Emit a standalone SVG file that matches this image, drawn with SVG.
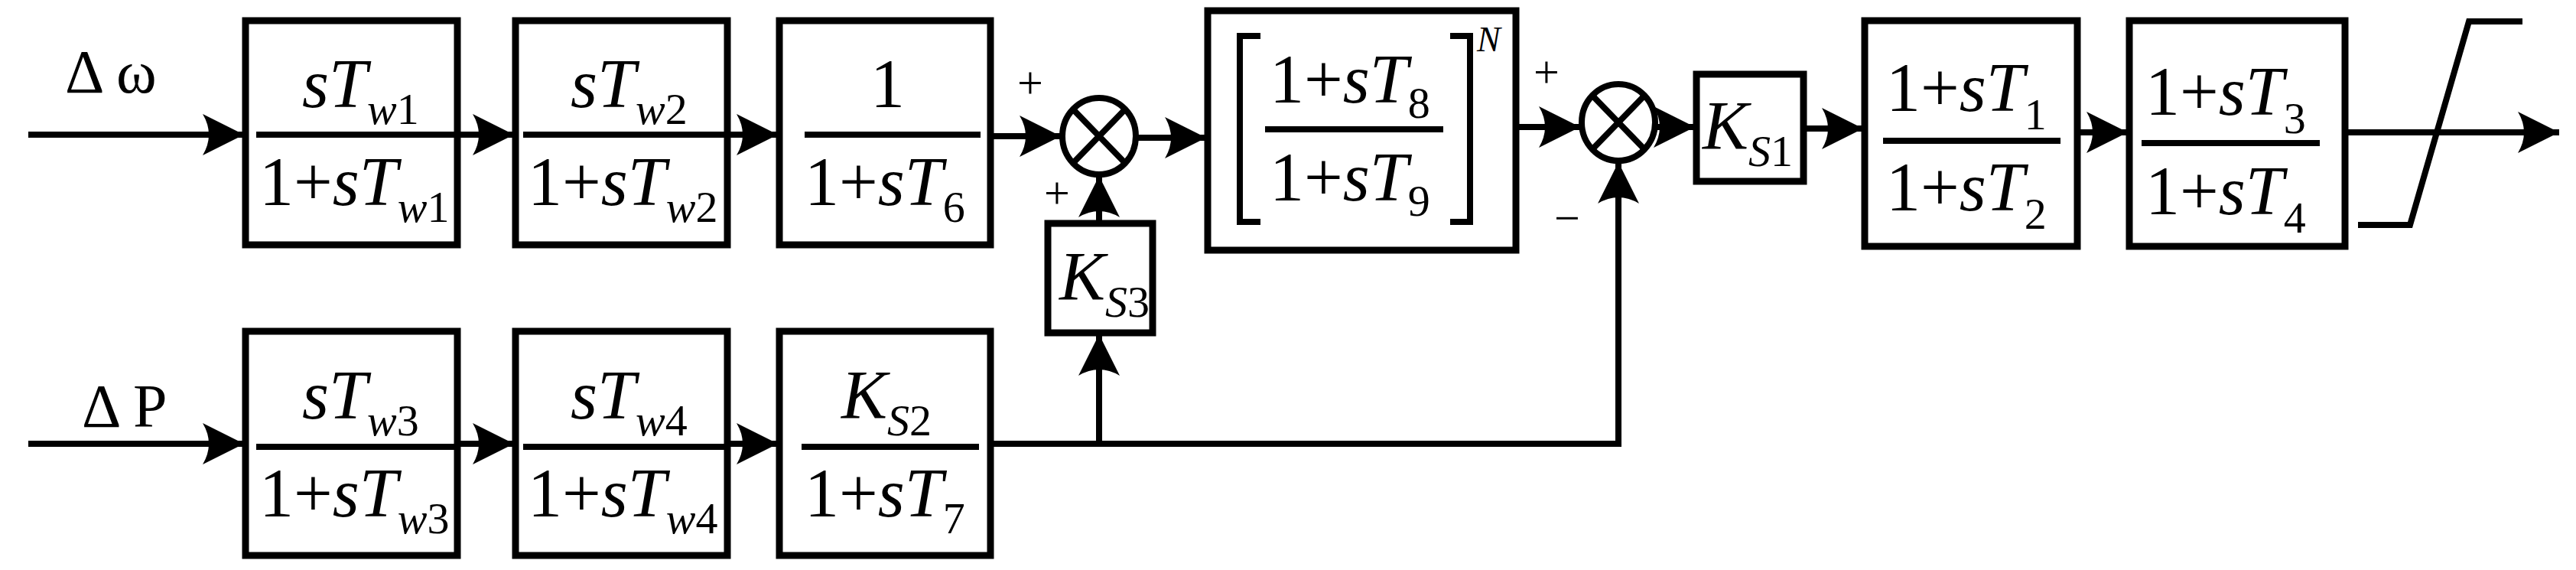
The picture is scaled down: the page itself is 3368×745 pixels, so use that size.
<svg xmlns="http://www.w3.org/2000/svg" width="3368" height="745" viewBox="0 0 3368 745">
<style>
.b{fill:none;stroke:#000;stroke-width:9}
.l{fill:none;stroke:#000;stroke-width:8}
text{font-family:"Liberation Serif",serif;fill:#000}
.f{font-size:90px}
.i{font-style:italic}
.s{font-size:58px}
</style>
<defs>
<marker id="a" markerUnits="userSpaceOnUse" markerWidth="60" markerHeight="60" viewBox="-56 -30 60 60" refX="0" refY="0" orient="auto">
<path d="M0,0 L-54,-27 Q-38,0 -54,27 Z" fill="#000"/>
</marker>
</defs>
<g id="connectors" class="l">
<path d="M37,176H319" marker-end="url(#a)"/>
<path d="M598,176H672" marker-end="url(#a)"/>
<path d="M951,176H1017" marker-end="url(#a)"/>
<path d="M1295,178H1387" marker-end="url(#a)"/>
<path d="M1486,180H1577" marker-end="url(#a)"/>
<path d="M1982,166H2066" marker-end="url(#a)"/>
<path d="M2164,166H2216" marker-end="url(#a)"/>
<path d="M2358,168H2436" marker-end="url(#a)"/>
<path d="M2716,173H2782" marker-end="url(#a)"/>
<path d="M3066,173H3346" marker-end="url(#a)"/>
<path d="M37,580H319" marker-end="url(#a)"/>
<path d="M598,580H672" marker-end="url(#a)"/>
<path d="M951,580H1017" marker-end="url(#a)"/>
<path d="M1295,580H2116V212" marker-end="url(#a)"/>
<path d="M1437,580V437" marker-end="url(#a)"/>
<path d="M1437,292V230" marker-end="url(#a)"/>
</g>
<g id="in1"><text x="85" y="121" font-size="80">Δ  ω</text></g>
<g id="in2"><text x="107" y="558" font-size="80">Δ P</text></g>
<g id="b1"><rect class="b" x="321" y="27" width="277" height="293"/><path class="l" d="M335,176H596"/>
<text class="f i" x="395" y="140">sT<tspan class="s" dy="22">w</tspan><tspan class="s" font-style="normal">1</tspan></text>
<text class="f" x="339" y="268">1+<tspan class="i">sT</tspan><tspan class="s i" dy="22">w</tspan><tspan class="s">1</tspan></text></g>
<g id="b2"><rect class="b" x="674" y="27" width="277" height="293"/><path class="l" d="M684,176H949"/>
<text class="f i" x="746" y="140">sT<tspan class="s" dy="22">w</tspan><tspan class="s" font-style="normal">2</tspan></text>
<text class="f" x="690" y="268">1+<tspan class="i">sT</tspan><tspan class="s i" dy="22">w</tspan><tspan class="s">2</tspan></text></g>
<g id="b3"><rect class="b" x="1019" y="27" width="276" height="293"/><path class="l" d="M1052,176H1282"/>
<text class="f" x="1138" y="140">1</text>
<text class="f" x="1052" y="268">1+<tspan class="i">sT</tspan><tspan class="s" dy="22">6</tspan></text></g>
<g id="b4"><rect class="b" x="321" y="433" width="277" height="293"/><path class="l" d="M335,584H596"/>
<text class="f i" x="395" y="547">sT<tspan class="s" dy="22">w</tspan><tspan class="s" font-style="normal">3</tspan></text>
<text class="f" x="339" y="675">1+<tspan class="i">sT</tspan><tspan class="s i" dy="22">w</tspan><tspan class="s">3</tspan></text></g>
<g id="b5"><rect class="b" x="674" y="433" width="277" height="293"/><path class="l" d="M684,584H949"/>
<text class="f i" x="746" y="547">sT<tspan class="s" dy="22">w</tspan><tspan class="s" font-style="normal">4</tspan></text>
<text class="f" x="690" y="675">1+<tspan class="i">sT</tspan><tspan class="s i" dy="22">w</tspan><tspan class="s">4</tspan></text></g>
<g id="b6"><rect class="b" x="1019" y="433" width="276" height="293"/><path class="l" d="M1048,584H1280"/>
<text class="f i" x="1100" y="547">K<tspan class="s" dy="22">S</tspan><tspan class="s" font-style="normal">2</tspan></text>
<text class="f" x="1052" y="675">1+<tspan class="i">sT</tspan><tspan class="s" dy="22">7</tspan></text></g>
<g id="sum1"><ellipse class="l" cx="1437" cy="178" rx="48" ry="50"/><path class="l" d="M1404,144L1470,212M1470,144L1404,212"/>
<text x="1330" y="128" font-size="60">+</text><text x="1365" y="272" font-size="60">+</text></g>
<g id="ks3"><rect class="b" x="1370" y="292" width="137" height="143"/>
<text class="f i" x="1385" y="392">K<tspan class="s" dy="22">S</tspan><tspan class="s" font-style="normal">3</tspan></text></g>
<g id="big"><rect class="b" x="1579" y="14" width="403" height="313"/>
<path class="l" d="M1648,47H1621V290H1648M1896,47H1922V290H1896"/>
<path class="l" d="M1654,169H1887"/>
<text class="f" x="1660" y="134">1+<tspan class="i">sT</tspan><tspan class="s" dy="20">8</tspan></text>
<text class="f" x="1660" y="262">1+<tspan class="i">sT</tspan><tspan class="s" dy="20">9</tspan></text>
<text class="i" x="1931" y="67" font-size="46">N</text></g>
<g id="sum2"><ellipse class="l" cx="2116" cy="160" rx="48" ry="50"/><path class="l" d="M2083,126L2149,194M2149,126L2083,194"/>
<text x="2005" y="114" font-size="60">+</text><text x="2032" y="305" font-size="60">−</text></g>
<g id="ks1"><rect class="b" x="2218" y="97" width="140" height="140"/>
<text class="f i" x="2226" y="195">K<tspan class="s" dy="22">S</tspan><tspan class="s" font-style="normal">1</tspan></text></g>
<g id="b7"><rect class="b" x="2438" y="27" width="278" height="295"/><path class="l" d="M2462,184H2694"/>
<text class="f" x="2466" y="145">1+<tspan class="i">sT</tspan><tspan class="s" dy="24">1</tspan></text>
<text class="f" x="2466" y="275">1+<tspan class="i">sT</tspan><tspan class="s" dy="24">2</tspan></text></g>
<g id="b8"><rect class="b" x="2784" y="27" width="282" height="295"/><path class="l" d="M2800,187H3033"/>
<text class="f" x="2805" y="150">1+<tspan class="i">sT</tspan><tspan class="s" dy="24">3</tspan></text>
<text class="f" x="2805" y="280">1+<tspan class="i">sT</tspan><tspan class="s" dy="24">4</tspan></text></g>
<g id="sat"><path class="l" d="M3083,294H3151L3228,28H3298"/></g>
</svg>
